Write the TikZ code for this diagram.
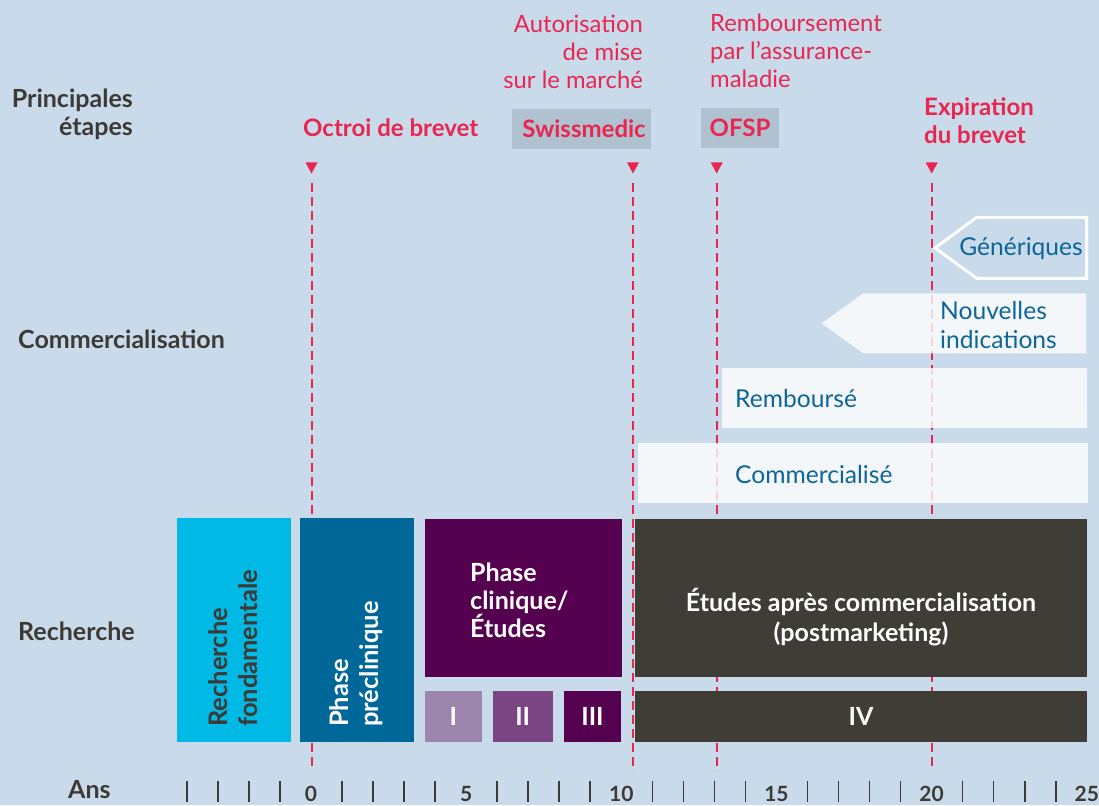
\documentclass[tikz,border=0pt]{standalone}
\usepackage{fontspec}
\setmainfont{Lato}
\definecolor{bg}{RGB}{201,219,234}
\definecolor{red}{RGB}{232,38,80}
\definecolor{dk}{RGB}{61,58,53}
\definecolor{gbox}{RGB}{176,193,207}
\definecolor{btxt}{RGB}{14,101,152}
\definecolor{cyan}{RGB}{0,185,228}
\definecolor{bbox}{RGB}{0,104,152}
\definecolor{purp}{RGB}{86,0,80}
\definecolor{lpurp}{RGB}{157,134,174}
\definecolor{mpurp}{RGB}{123,68,131}
\definecolor{dbox}{RGB}{64,61,55}
\tikzset{
  fsb/.style={font=\fontsize{25}{28}\selectfont\bfseries},
  lab/.style={fsb, text=dk, inner sep=0pt},
  mile/.style={font=\fontsize{24}{28}\selectfont\bfseries, text=red, inner sep=0pt},
  milereg/.style={font=\fontsize{23.8}{28}\selectfont, text=red, inner sep=0pt},
  ctxt/.style={font=\fontsize{24.6}{29}\selectfont, text=btxt, inner sep=0pt},
  wtxt/.style={fsb, text=white, inner sep=0pt},
  rtxt/.style={font=\fontsize{25.5}{30}\selectfont\bfseries, inner sep=0pt, rotate=90, align=left, anchor=west},
  guide/.style={red, line width=2pt, dash pattern=on 9pt off 5pt},
  tri/.style={fill=red},
  lightbox/.style={fill=white, fill opacity=0.78, draw=none},
  tick/.style={dk, line width=1.6pt},
  ticklab/.style={font=\fontsize{21}{24}\selectfont\bfseries, text=dk, inner sep=0pt, anchor=base},
}
\begin{document}
\begin{tikzpicture}[x=1pt,y=-1pt]
\fill[bg] (0,0) rectangle (1099,805);
\useasboundingbox (0,0) rectangle (1099,805);

% left labels
\node[lab, align=right, anchor=east] (etapes) at (133,114) {Principales\\étapes};
\node[lab, anchor=west] (comm) at (18,339) {Commercialisation};
\node[lab, anchor=west] (rech) at (18,631) {Recherche};
\node[lab, anchor=west] (ans) at (68,790) {Ans};

% milestones text
\node[mile, anchor=west] (octroi) at (303,128) {Octroi de brevet};
\fill[gbox] (512,109) rectangle (651,149);
\node[mile] (swiss) at (584,129) {Swissmedic};
\node[milereg, align=right, anchor=east] (amm) at (643,52) {Autorisation\\de mise\\sur le marché};
\fill[gbox] (701,108) rectangle (779,148);
\node[mile] (ofsp) at (740,128) {OFSP};
\node[milereg, align=left, anchor=west] (remb) at (710,51) {Remboursement\\par l’assurance-\\maladie};
\node[mile, align=left, anchor=west] (expir) at (924,121) {Expiration\\du brevet};

% triangles and guides
\foreach \gx/\nm in {311.5/g0, 633/g1, 716.7/g2, 931.7/g3}{
  \fill[tri] (\gx-6,162.5) -- (\gx+6,162.5) -- (\gx,173.5) -- cycle;
  \coordinate (\nm top) at (\gx,183);
  \coordinate (\nm bot) at (\gx,771);
  \draw[guide] (\nm top) -- (\nm bot);
}

% commercial row
\draw[white, line width=3pt, line join=miter] (935,248) -- (976.7,217.3) -- (1086.7,217.3) -- (1086.7,278.3) -- (976.7,278.3) -- cycle;
\node[ctxt] (gen) at (1021,249) {Génériques};
\fill[lightbox] (821.7,323.3) -- (863.3,293.3) -- (1086,293.3) -- (1086,353.3) -- (863.3,353.3) -- cycle;
\node[ctxt, align=left, anchor=west] (nouv) at (940,325) {Nouvelles\\indications};
\fill[lightbox] (721.7,368.3) rectangle (1086.7,428.3);
\node[ctxt, anchor=west] (rembx) at (735,399) {Remboursé};
\fill[lightbox] (637.7,443.3) rectangle (1088,503.3);
\node[ctxt, anchor=west] (commx) at (735,475) {Commercialisé};

% research row
\fill[cyan] (176.7,518) rectangle (290.7,742);
\node[rtxt, text=dk] (rf) at (233,727) {Recherche\\fondamentale};
\fill[bbox] (300,518) rectangle (414,742);
\node[rtxt, text=white] (pp) at (356,727) {Phase\\préclinique};
\fill[purp] (425,519) rectangle (621.7,677);
\node[wtxt, align=left, anchor=west] (pc) at (470,600) {Phase\\clinique/\\Études};
\fill[lpurp] (425,691) rectangle (481.7,742);
\node[wtxt] (p1) at (453.3,716.5) {I};
\fill[mpurp] (492.7,691) rectangle (552.7,742);
\node[wtxt] (p2) at (522.7,716.5) {II};
\fill[purp] (564,691) rectangle (621,742);
\node[wtxt] (p3) at (592.5,716.5) {III};
\fill[dbox] (635,519) rectangle (1087,677);
\node[wtxt, align=center, font=\fontsize{25}{30}\selectfont\bfseries] (post) at (861,617) {Études après commercialisation\\(postmarketing)};
\fill[dbox] (635,691) rectangle (1087,742);
\node[wtxt] (p4) at (861,716.5) {IV};

% axis
\foreach \yr in {-4,-3,-2,-1,1,2,3,4,6,7,8,9,11,12,13,14,16,17,18,19,21,22,23,24}{
  \draw[tick] ({311+31.03*\yr},781) -- ({311+31.03*\yr},802);
}
\foreach \yr in {0,5,10,15,20,25}{
  \node[ticklab] (yr\yr) at ({311+31.03*\yr},801) {\yr};
}
\end{tikzpicture}
\end{document}
